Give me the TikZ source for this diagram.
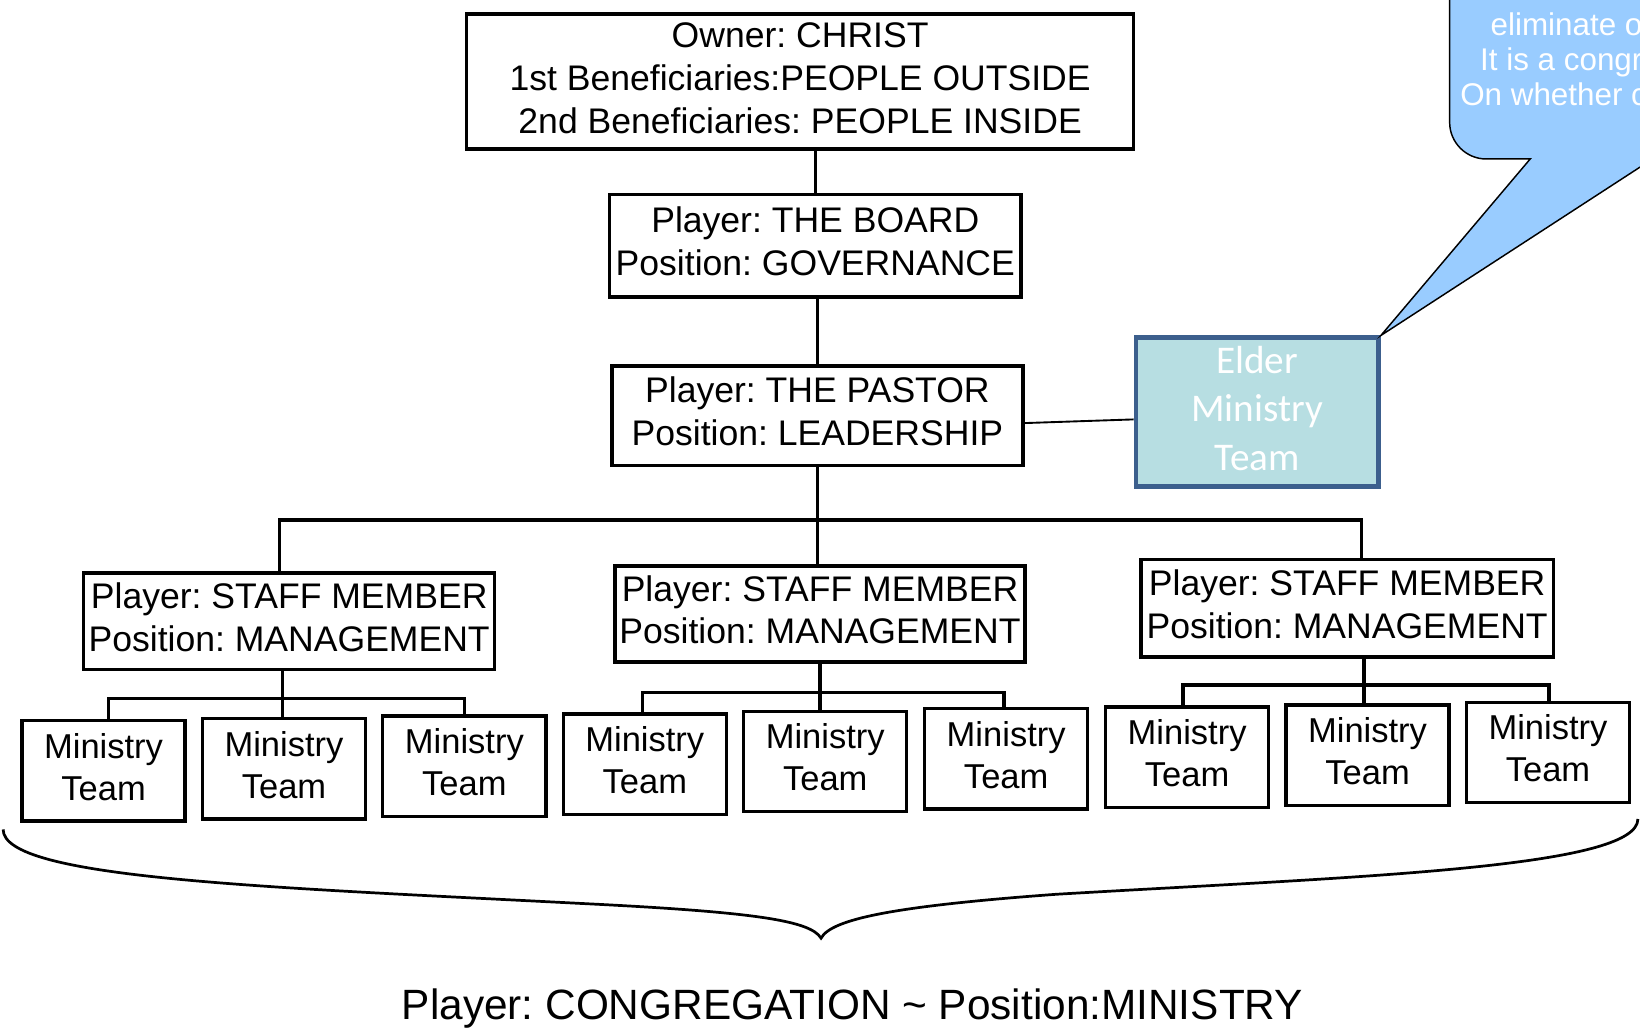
\documentclass[tikz,border=0pt]{standalone}
\usepackage{fontspec}
\setmainfont{Liberation Sans}
\newfontfamily\elderfont{Carlito}
\usetikzlibrary{calc}
\frenchspacing
\definecolor{callfill}{HTML}{99CCFF}
\definecolor{elderfill}{HTML}{B7DEE2}
\definecolor{elderline}{HTML}{3C5F8D}
\tikzset{
  orgbox/.style={draw=black, line width=3.2pt, inner sep=0pt, align=center, font=\fontsize{34}{41}\selectfont},
  mtbox/.style={orgbox, minimum width=156pt, minimum height=96pt, font=\fontsize{33}{40}\selectfont},
  conn/.style={draw=black, line width=3.2pt},
  thinconn/.style={draw=black, line width=1.8pt},
  elderbox/.style={draw=elderline, fill=elderfill, line width=4.5pt, inner sep=0pt, align=center, text=white, font=\elderfont\fontsize{37.5}{46.4}\selectfont, minimum width=232pt, minimum height=142pt},
  calloutshape/.style={draw=black, fill=callfill, line width=1.4pt, line join=miter},
  calltext/.style={anchor=base west, text=white, inner sep=0pt, font=\fontsize{30}{34}\selectfont},
}
\begin{document}
\begin{tikzpicture}[x=1pt,y=-1pt]
\useasboundingbox (0,0) rectangle (1568,990);
\fill[white] (0,0) rectangle (1568,990);

% main boxes
\node[orgbox, minimum width=638pt, minimum height=129pt] (owner) at (765,78)
  {\strut Owner: CHRIST\\1st Beneficiaries:PEOPLE OUTSIDE\\2nd Beneficiaries: PEOPLE INSIDE\strut};
\node[orgbox, minimum width=393pt, minimum height=98pt] (board) at (779.5,235)
  {\strut Player: THE BOARD\\Position: GOVERNANCE\strut};
\node[orgbox, minimum width=393pt, minimum height=95pt] (pastor) at (781.5,397.5)
  {\strut Player: THE PASTOR\\Position: LEADERSHIP\strut};
\node[orgbox, minimum width=393pt, minimum height=92pt] (sL) at (276.5,594)
  {\strut Player: STAFF MEMBER\\Position: MANAGEMENT\strut};
\node[orgbox, minimum width=392pt, minimum height=92pt] (sM) at (784,587)
  {\strut Player: STAFF MEMBER\\Position: MANAGEMENT\strut};
\node[orgbox, minimum width=394pt, minimum height=93pt] (sR) at (1288,581.5)
  {\strut Player: STAFF MEMBER\\Position: MANAGEMENT\strut};

% ministry teams
\node[mtbox] (m1) at (99,737)    {\strut Ministry\\Team\strut};
\node[mtbox] (m2) at (271.5,735) {\strut Ministry\\Team\strut};
\node[mtbox] (m3) at (444,732.5) {\strut Ministry\\Team\strut};
\node[mtbox] (m4) at (616.5,730.5) {\strut Ministry\\Team\strut};
\node[mtbox] (m5) at (789,728)   {\strut Ministry\\Team\strut};
\node[mtbox] (m6) at (962,725.5) {\strut Ministry\\Team\strut};
\node[mtbox] (m7) at (1135,724)  {\strut Ministry\\Team\strut};
\node[mtbox] (m8) at (1307.5,722) {\strut Ministry\\Team\strut};
\node[mtbox] (m9) at (1480,719.5) {\strut Ministry\\Team\strut};

% elder box
\node[elderbox] (elder) at (1202,394) {\strut Elder\\Ministry\\Team\strut};

% connectors
\draw[conn] (board.north) -- (board.north |- owner.south);
\draw[conn] (pastor.north) -- (pastor.north |- board.south);
\coordinate (busL) at (267,497);
\coordinate (busR) at (1302,497);
\draw[conn] (pastor.south) -- (pastor.south |- sM.north);
\draw[conn] (busL |- sL.north) -- (busL) -- (busR) -- (busR |- sR.north);

\coordinate (lA) at (104,668); \coordinate (lS) at (270,668); \coordinate (lB) at (444,668);
\draw[conn] (lS |- sL.south) -- (lS |- m2.north);
\draw[conn] (lA |- m1.north) -- (lA) -- (lB) -- (lB |- m3.north);

\coordinate (mA) at (614,662); \coordinate (mS) at (784,662); \coordinate (mB) at (960,662);
\draw[conn] (mS |- sM.south) -- (mS |- m5.north);
\draw[conn] (mA |- m4.north) -- (mA) -- (mB) -- (mB |- m6.north);

\coordinate (rA) at (1131,655); \coordinate (rS) at (1304,655); \coordinate (rB) at (1481,655);
\draw[conn] (rS |- sR.south) -- (rS |- m8.north);
\draw[conn] (rA |- m7.north) -- (rA) -- (rB) -- (rB |- m9.north);

\draw[thinconn] ($(pastor.east)+(0,7)$) -- ($(elder.west)+(0,7)$);

% brace
\coordinate (braceL) at (3,793);
\coordinate (braceTip) at (785,897);
\coordinate (braceR) at (1566,783);
\draw[conn, line width=2.6pt] (braceL) .. controls (3,840) and (250,848) .. (560,864)
  .. controls (720,872) and (775,880) .. (braceTip)
  .. controls (795,878) and (860,866) .. (1010,855)
  .. controls (1300,838) and (1566,830) .. (braceR);

\node[anchor=base, inner sep=0pt, font=\fontsize{40.5}{48}\selectfont] (cong) at (815,975)
  {Player: CONGREGATION \textasciitilde{} Position:MINISTRY};

% callout
\begin{scope}
\clip (0,0) rectangle (1568,990);
\coordinate (tip) at (elder.north east);
\draw[calloutshape] (1386,-20) -- (1386,117) .. controls (1386,136.3) and (1401.7,152) .. (1421,152)
  -- (1463,152) -- (tip) -- (1620,126) -- (1620,-20) -- cycle;
\node[calltext] (c1) at (1425,33.5) {eliminate o};
\node[calltext] (c2) at (1415,67) {It is a congr};
\node[calltext] (c3) at (1396,101) {On whether c};
\end{scope}
\end{tikzpicture}
\end{document}
